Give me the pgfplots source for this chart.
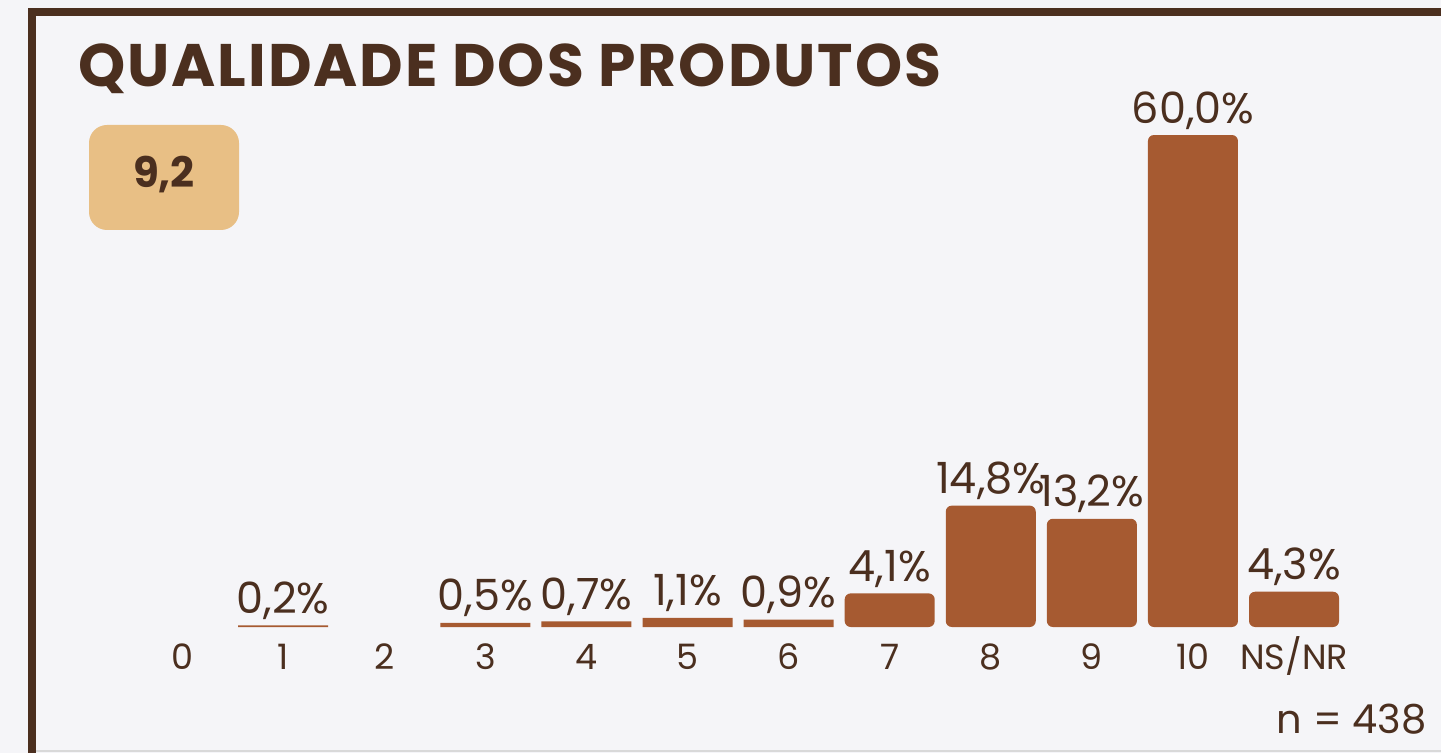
\documentclass[border=0pt]{standalone}
\usepackage{fontspec}
\setmainfont{Poppins}
\usepackage{pgfplots}
\pgfplotsset{compat=1.18}

\definecolor{brun}{HTML}{4B2F1F}
\definecolor{barc}{HTML}{A65A31}
\definecolor{bgc}{HTML}{F5F5F8}
\definecolor{badge}{HTML}{E8BF85}

\begin{document}
\begin{tikzpicture}
% frame, title and badge (1px = 0.5pt, y downwards)
\begin{scope}[x=0.5pt,y=-0.5pt]
  \fill[bgc] (0,0) rectangle (1441,753);
  \path[use as bounding box] (0,0) rectangle (1441,753);
  \fill[brun] (28,8) rectangle (1441,16);
  \fill[brun] (28,8) rectangle (36,753);
  \draw[black!15, line width=0.8pt] (36,751) -- (1441,751);
  \fill[badge, rounded corners=9pt] (89,125) rectangle (239,230);
  \node[anchor=base, inner sep=0, text=brun, font=\bfseries\fontsize{21}{21}\selectfont] at (164,188) {9,2};
  \node[anchor=base west, inner sep=0, text=brun, font=\bfseries\fontsize{30}{30}\selectfont\addfontfeature{LetterSpace=3.2}] at (78,87) {QUALIDADE DOS PRODUTOS};
  \node[anchor=base east, inner sep=0, text=brun, font=\fontsize{20}{20}\selectfont] at (1427,733) {n = 438};
\end{scope}

\begin{axis}[
  at={(65.75pt,-313.5pt)}, anchor=south west,
  scale only axis, width=606.54pt, height=246pt,
  xmin=-0.5, xmax=11.5, ymin=0, ymax=60,
  clip=false,
  axis line style={draw=none},
  ytick=\empty,
  xtick={0,...,11},
  xticklabels={0,1,2,3,4,5,6,7,8,9,10,NS/NR},
  xtick style={draw=none},
  xticklabel style={anchor=base, inner sep=0, yshift=-21pt, text=brun, font=\fontsize{17.5}{17.5}\selectfont},
  /pgf/number format/assume math mode=true,
  nodes near coords={\pgfmathprintnumber[fixed, fixed zerofill, precision=1, use comma]{\pgfplotspointmeta}\%},
  every node near coord/.append style={anchor=base, inner sep=0, yshift=6pt, text=brun, font=\fontsize{21.5}{21.5}\selectfont},
]
\addplot[ybar, bar width=45pt, bar shift=0pt, fill=barc, draw=none, rounded corners=3pt]
  coordinates {(7,4.1) (8,14.8) (9,13.2) (10,60.0) (11,4.3)};
\addplot[ybar, bar width=45pt, bar shift=0pt, fill=barc, draw=none]
  coordinates {(1,0.2) (3,0.5) (4,0.7) (5,1.1) (6,0.9)};
\end{axis}
\end{tikzpicture}
\end{document}
